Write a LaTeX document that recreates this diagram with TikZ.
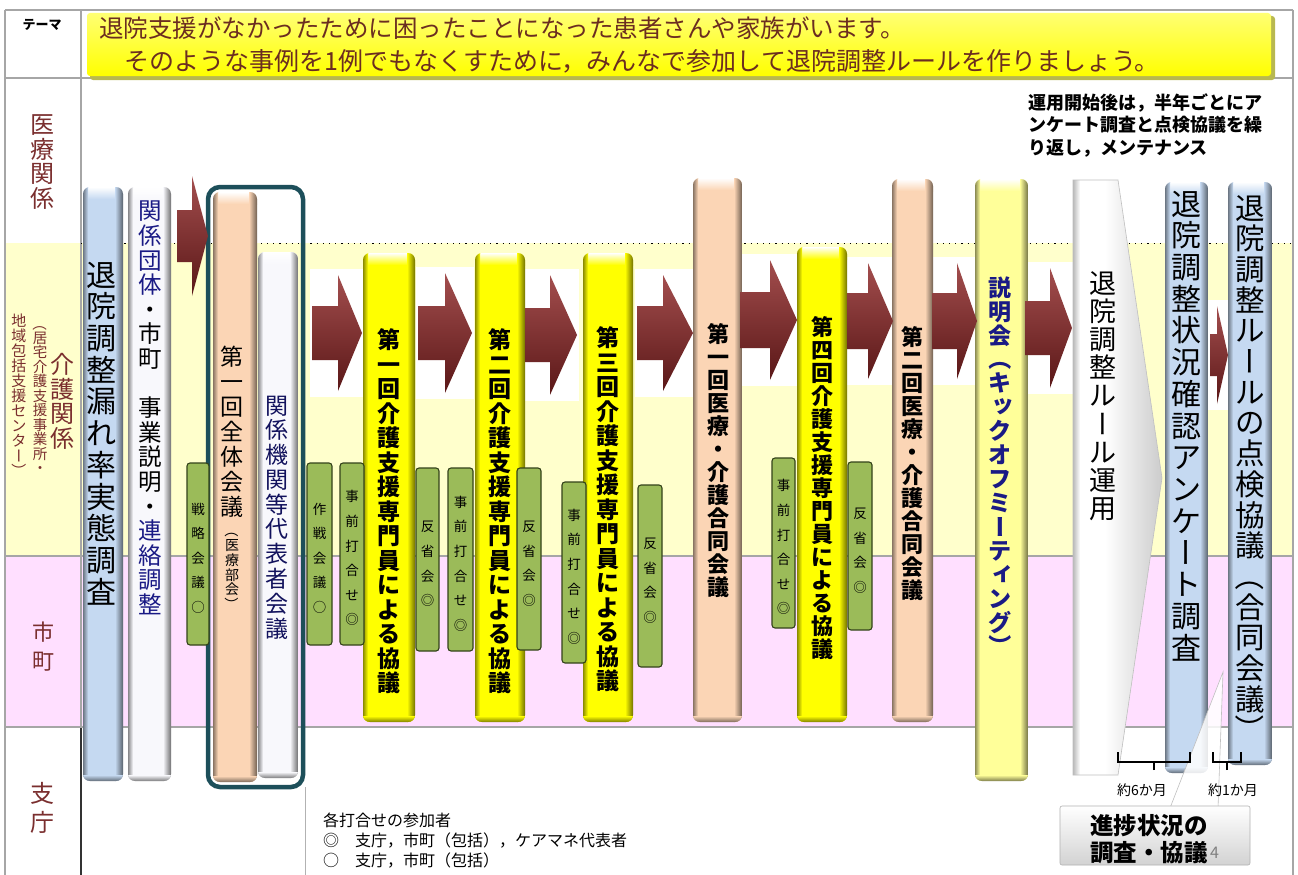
\documentclass[tikz,border=0pt]{standalone}
\usepackage{fontspec}
\setmainfont{Noto Sans CJK JP}
\usepackage{graphicx}
\definecolor{rowlab}{HTML}{7A2E2E}
\definecolor{titletext}{HTML}{6B2D20}
\definecolor{bgyellow}{HTML}{FFFFCC}
\definecolor{bgpink}{HTML}{FFDFFF}
\definecolor{cblue}{HTML}{C5D9F1}
\definecolor{cwhite}{HTML}{F8F8FC}
\definecolor{cpeach}{HTML}{FBD5B5}
\definecolor{cyel}{HTML}{FFFF00}
\definecolor{clyel}{HTML}{FFFF99}
\definecolor{cgreen}{HTML}{9BBB59}
\definecolor{gborder}{HTML}{33421A}
\definecolor{grpborder}{HTML}{1D4F5A}
\definecolor{navy}{HTML}{1A1A85}
\definecolor{arrtop}{HTML}{A34E4E}
\definecolor{arrmid}{HTML}{7C2626}
\definecolor{arrbot}{HTML}{5A1717}
\definecolor{gridgray}{HTML}{A6A6A6}
\definecolor{tshadow}{HTML}{B8B850}
% vertical text machinery
\newcommand\vtend{VTEND}
\newcommand\vtgap{}
\newcommand\vtp{1.05}
\newcommand\vtrot[1]{\rotatebox[origin=c]{-90}{\hbox to 1em{\vrule height .88em depth .12em width 0pt\hss#1\hss}}}
\newcommand\vtsmall[1]{\raisebox{.13em}{\kern.12em #1\kern-.12em}}
\newcommand\vtglyph[1]{%
 \ifx#1ー\vtrot{ー}\else
 \ifx#1（\vtrot{（}\else
 \ifx#1）\vtrot{）}\else
 \ifx#1ッ\vtsmall{ッ}\else
 \ifx#1ィ\vtsmall{ィ}\else
 #1\fi\fi\fi\fi\fi}
\newcommand\vtchar[1]{\hbox to\hsize{\hss\hbox to 1em{\vrule height \vtp\dimexpr.88em\relax depth \vtp\dimexpr.12em\relax width 0pt\hss\vtglyph{#1}\hss}\hss}}
\newcommand\vtloop[1]{\ifx#1\vtend\else\vtchar{#1}\expandafter\vtloop\fi}
\newcommand\vt[1]{\vtloop#1\vtend}
\newcommand\vtx[3]{{\fontsize{#1}{#1}\selectfont\def\vtp{#2}\vbox{\hsize=2em\offinterlineskip#3}}}
% column shape
\newcommand\colrect[5]{%
 \begin{scope}
 \clip[rounded corners=7pt] (#1,#2) rectangle (#3,#4);
 \fill[#5] (#1,#2) rectangle (#3,#4);
 \shade[top color=white, bottom color=#5] (#1,#2) rectangle (#3,{#2+12});
 \shade[left color=#5!55!black, right color=#5] (#1,#2) rectangle ({#1+5},#4);
 \shade[left color=#5, right color=#5!45!black] ({#3-8},#2) rectangle (#3,#4);
 \shade[top color=#5, bottom color=#5!50!black] (#1,{#4-6}) rectangle (#3,#4);
 \end{scope}}
\newcommand\aback[4]{\fill[white] ({#1-2},{#3-#4-6}) rectangle ({#2+2},{#3+#4+6});}
\newcommand\barrow[6]{%
 \shade[top color=arrtop, middle color=arrmid, bottom color=arrbot] (#1,{#4-#5}) -- (#2,{#4-#5}) -- (#2,{#4-#6}) -- (#3,#4) -- (#2,{#4+#6}) -- (#2,{#4+#5}) -- (#1,{#4+#5}) -- cycle;}
\tikzset{
 vtext/.style={anchor=north, inner sep=0pt},
 gbox/.style={fill=cgreen, draw=gborder, line width=1.1pt, rounded corners=3pt},
 rowlabel/.style={anchor=north, inner sep=0pt, text=rowlab},
 grid/.style={draw=gridgray, line width=1.2pt},
 bracket/.style={draw=black, line width=1.1pt},
}
\newcommand\greenbox[6]{%
 \draw[gbox] (#1,#2) rectangle (#3,#4);
 \node[inner sep=0pt] (#5) at ({(#1+#3)/2},{(#2+#4)/2}) {\vtx{13.5}{1.82}{\vt{#6}}};}
\begin{document}
\begin{tikzpicture}[x=1pt,y=-1pt]
\useasboundingbox (0,0) rectangle (1298,875);
\fill[white] (0,0) rectangle (1298,875);
% row backgrounds
\fill[bgyellow] (5,243) rectangle (1293,556);
\fill[bgpink] (5,556) rectangle (1293,727);
% grid
\draw[grid] (5,10) -- (1293,10);
\draw[grid] (5,78) -- (1293,78);
\draw[grid] (5,10) -- (5,875);
\draw[grid] (1293,10) -- (1293,875);
\draw[grid] (81,10) -- (81,727);
\draw[black!80, line width=1.2pt] (81,727) -- (81,875);
\draw[grid] (5,556) -- (1293,556);
\draw[grid] (5,727) -- (1293,727);
\draw[black, line width=1pt, dash pattern=on 1.2pt off 5pt] (81,243) -- (1293,243);
\draw[gray!60, line width=0.8pt] (305,787) -- (305,875);
% theme row
\node[font=\bfseries\fontsize{13}{13}\selectfont, inner sep=0pt] (theme) at (42,25) {テーマ};
\fill[tshadow, rounded corners=3pt] (90,16) rectangle (1275,80);
\shade[top color=cyel!55!white, bottom color=cyel, rounded corners=3pt] (87,13) rectangle (1271,76);
\node[anchor=west, inner sep=0pt, text=titletext, font=\fontsize{24.5}{25}\selectfont] (title1) at (99,28) {退院支援がなかったために困ったことになった患者さんや家族がいます。};
\node[anchor=west, inner sep=0pt, text=titletext, font=\fontsize{25}{25}\selectfont] (title2) at (124,61) {そのような事例を1例でもなくすために，みんなで参加して退院調整ルールを作りましょう。};
% row labels
\node[rowlabel] (r1) at (43,112) {\vtx{24}{1.02}{\vt{医療関係}}};
\node[rowlabel] (r2) at (62,352) {\vtx{24}{1.02}{\vt{介護関係}}};
\node[rowlabel] (r2a) at (40,316) {\vtx{14.5}{1.0}{\vt{（居宅介護支援事業所・}}};
\node[rowlabel] (r2b) at (19,313) {\vtx{15}{1.0}{\vt{地域包括支援センター）}}};
\node[rowlabel] (r3) at (43,615) {\vtx{22}{1.32}{\vt{市町}}};
\node[rowlabel] (r4) at (43,777) {\vtx{24}{1.2}{\vt{支庁}}};
% white backings of arrows
\aback{312}{362}{333}{58}
\aback{418}{472}{333}{60}
\aback{525}{577}{335}{60}
\aback{637}{693}{333}{58}
\aback{740}{797}{320}{60}
\aback{847}{893}{321}{58}
\aback{932}{977}{321}{58}
\aback{1025}{1072}{328}{60}
\aback{1210}{1228}{355}{49}
% columns
\colrect{83}{187}{123}{781}{cblue}
\colrect{128}{187}{171}{781}{cwhite}
\colrect{213}{192}{257}{782}{cpeach}
\colrect{258}{252}{298}{778}{cwhite}
\draw[grpborder, line width=4.5pt, rounded corners=12pt] (208,187) rectangle (303,787);
\colrect{363}{253}{415}{722}{cyel}
\colrect{475}{253}{525}{722}{cyel}
\colrect{583}{253}{633}{722}{cyel}
\colrect{693}{178}{742}{722}{cpeach}
\colrect{797}{247}{847}{722}{cyel}
\colrect{892}{179}{933}{722}{cpeach}
\colrect{975}{179}{1028}{781}{clyel}
\begin{scope}
\clip (1073,180) -- (1118,180) -- (1162,478) -- (1118,775) -- (1073,775) -- cycle;
\fill[white] (1073,180) rectangle (1162,775);
\shade[left color=gray!55, right color=white] (1073,180) rectangle (1080,775);
\shade[left color=white, right color=gray!40] (1105,180) rectangle (1162,775);
\end{scope}
\draw[gray!50, line width=0.6pt] (1073,180) -- (1118,180) -- (1162,478) -- (1118,775) -- (1073,775) -- cycle;
\colrect{1165}{182}{1208}{773}{cblue}
\colrect{1228}{182}{1272}{765}{cblue}
% column texts
\node[vtext] (t1) at (101,258) {\vtx{30}{1.057}{\vt{退院調整漏れ率実態調査}}};
\node[vtext] (t2) at (150,198) {\vtx{23.5}{1.047}{\color{navy}\vt{関係団体}\color{black}\vt{・市町\vtgap 事業説明・}\color{navy}\vt{連絡調整}}};
\node[vtext] (t3) at (232,343) {\vtx{23}{1.087}{\vt{第一回全体会議}\kern5pt\fontsize{14}{14}\selectfont\def\vtp{1.05}\vt{（医療部会）}}};
\node[vtext] (t4) at (277,392) {\vtx{23}{1.078}{\color{navy!70!black}\vt{関係機関等代表者会議}}};
\node[vtext] (t5) at (389,327) {\vtx{23}{1.065}{\bfseries\vt{第一回介護支援専門員による協議}}};
\node[vtext] (t6) at (500,327) {\vtx{23}{1.065}{\bfseries\vt{第二回介護支援専門員による協議}}};
\node[vtext] (t7) at (608,325) {\vtx{23}{1.065}{\bfseries\vt{第三回介護支援専門員による協議}}};
\node[vtext] (t8) at (718,322) {\vtx{22}{1.045}{\bfseries\vt{第一回医療・介護合同会議}}};
\node[vtext] (t9) at (822,315) {\vtx{22}{1.045}{\bfseries\vt{第四回介護支援専門員による協議}}};
\node[vtext] (t10) at (912,325) {\vtx{22}{1.045}{\bfseries\vt{第二回医療・介護合同会議}}};
\node[vtext] (t11) at (1000,275) {\vtx{23}{1.04}{\color{navy}\bfseries\vt{説明会（キックオフミーティング）}}};
\node[vtext] (t12) at (1103,268) {\vtx{27}{1.045}{\vt{退院調整ルール運用}}};
\node[vtext] (t13) at (1186,187) {\vtx{30}{1.057}{\vt{退院調整状況確認アンケート調査}}};
\node[vtext] (t14) at (1250,192) {\vtx{29.5}{1.04}{\vt{退院調整ルールの点検協議（合同会議）}}};
% arrows
\barrow{177}{192}{208}{236}{26}{60}
\barrow{312}{338}{362}{333}{27}{58}
\barrow{418}{445}{472}{333}{27}{60}
\barrow{525}{550}{577}{335}{27}{60}
\barrow{637}{663}{693}{333}{27}{58}
\barrow{740}{770}{797}{320}{28}{60}
\barrow{847}{868}{893}{321}{28}{58}
\barrow{932}{957}{977}{321}{28}{58}
\barrow{1025}{1050}{1072}{328}{27}{60}
\barrow{1210}{1217}{1228}{355}{21}{49}
% green boxes
\greenbox{187}{463}{209}{645}{g1}{戦略会議○}
\greenbox{307}{463}{332}{645}{g2}{作戦会議○}
\greenbox{340}{463}{364}{645}{g3}{事前打合せ◎}
\greenbox{416}{468}{439}{651}{g4}{反省会◎}
\greenbox{448}{468}{473}{651}{g5}{事前打合せ◎}
\greenbox{517}{468}{541}{650}{g6}{反省会◎}
\greenbox{562}{482}{586}{663}{g7}{事前打合せ◎}
\greenbox{638}{485}{662}{667}{g8}{反省会◎}
\greenbox{772}{458}{795}{628}{g9}{事前打合せ◎}
\greenbox{848}{462}{872}{630}{g10}{反省会◎}
% top-right note
\node[anchor=north west, inner sep=0pt, align=left, font=\bfseries\fontsize{18}{22.5}\selectfont] (note2) at (1028,93) {運用開始後は，半年ごとにア\\ンケート調査と点検協議を繰\\り返し，メンテナンス};
% callout pointer (behind labels and brackets)
\filldraw[fill=white, fill opacity=0.85, draw=gray!50, line width=0.6pt] (1170,808) -- (1223,672) -- (1218,808) -- cycle;
% brackets
\coordinate (b6l) at (1118,752);
\coordinate (b6r) at (1190,752);
\coordinate (b6c) at (1154,770);
\coordinate (b1l) at (1213,752);
\coordinate (b1r) at (1241,752);
\coordinate (b1c) at (1227,770);
\draw[bracket] (b6l) -- ++(0,10) -| (b6r);
\draw[bracket, line width=1.5pt] (b6c) -- ++(0,-8);
\draw[bracket] (b1l) -- ++(0,10) -| (b1r);
\draw[bracket, line width=1.5pt] (b1c) -- ++(0,-8);
\node[font=\fontsize{14}{14}\selectfont, inner sep=0pt] (m6) at (1142,790) {約6か月};
\node[font=\fontsize{14}{14}\selectfont, inner sep=0pt] (m1) at (1233,790) {約1か月};
% callout box
\shade[top color=white, bottom color=gray!35, rounded corners=2pt] (1060,806) rectangle (1250,865);
\draw[gray!60, line width=0.6pt, rounded corners=2pt] (1060,806) rectangle (1250,865);
\node[anchor=west, inner sep=0pt, font=\bfseries\fontsize{23.5}{23.5}\selectfont] (c1) at (1090,826) {進捗状況の};
\node[anchor=west, inner sep=0pt, font=\bfseries\fontsize{23.5}{23.5}\selectfont] (c2) at (1090,853) {調査・協議};
\node[anchor=west, inner sep=0pt, text=gray, font=\fontsize{16}{16}\selectfont] (pg) at (1210,853) {4};
% bottom-left note
\node[anchor=north west, inner sep=0pt, align=left, font=\fontsize{16}{20}\selectfont] (note) at (323,813) {各打合せの参加者\\◎　支庁，市町（包括），ケアマネ代表者\\○　支庁，市町（包括）};
\end{tikzpicture}
\end{document}
